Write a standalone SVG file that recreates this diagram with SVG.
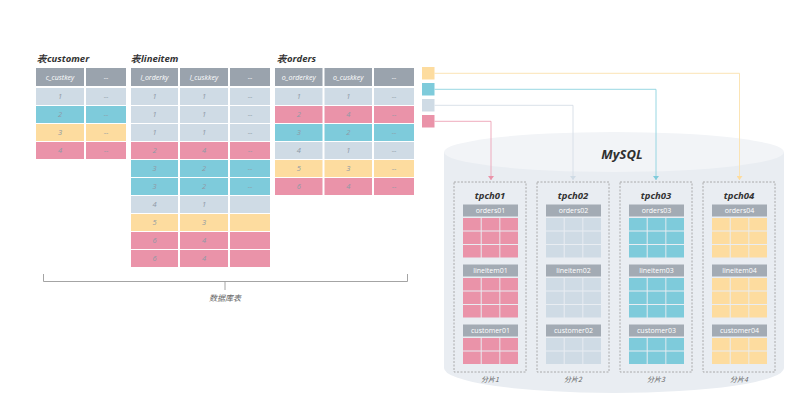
<svg xmlns="http://www.w3.org/2000/svg" width="807" height="404" viewBox="0 0 807 404">
<style>
.pk{fill:#ea93a9}.cy{fill:#7ecbdb}.ye{fill:#fddc9f}.gr{fill:#cfdbe5}.hd{fill:#9aa3ad}
.ttl{font-family:"Open Sans","Liberation Sans",sans-serif;font-size:9.5px;font-weight:bold;font-style:italic;fill:#333}
.ht{font-family:"Open Sans","Liberation Sans",sans-serif;font-size:7px;font-style:italic;fill:#fff;text-anchor:middle}
.ct{font-family:"Open Sans","Liberation Sans",sans-serif;font-size:7.5px;font-style:italic;fill:#8e99a5;text-anchor:middle}
.sh{font-family:"Open Sans","Liberation Sans",sans-serif;font-size:9.5px;font-weight:bold;font-style:italic;fill:#333;text-anchor:middle}
.sht{font-family:"Open Sans","Liberation Sans",sans-serif;font-size:7px;fill:#fff;text-anchor:middle}
.lb{font-family:"Noto Sans CJK SC","Open Sans",sans-serif;font-size:7px;font-style:italic;fill:#666;text-anchor:middle}
.box{fill:none;stroke:#999;stroke-width:0.8;stroke-dasharray:2 1.5}
.sg{fill:#a3abb4}
</style>
<defs>
<marker id="ap" markerWidth="6" markerHeight="6" refX="3" refY="5" markerUnits="userSpaceOnUse" viewBox="0 0 6 6"><path d="M0,1 L6,1 L3,5 Z" fill="#ea93a9"/></marker>
<marker id="ag" markerWidth="6" markerHeight="6" refX="3" refY="5" markerUnits="userSpaceOnUse" viewBox="0 0 6 6"><path d="M0,1 L6,1 L3,5 Z" fill="#cfdbe5"/></marker>
<marker id="ac" markerWidth="6" markerHeight="6" refX="3" refY="5" markerUnits="userSpaceOnUse" viewBox="0 0 6 6"><path d="M0,1 L6,1 L3,5 Z" fill="#7ecbdb"/></marker>
<marker id="ay" markerWidth="6" markerHeight="6" refX="3" refY="5" markerUnits="userSpaceOnUse" viewBox="0 0 6 6"><path d="M0,1 L6,1 L3,5 Z" fill="#fddc9f"/></marker>
</defs>
<rect width="807" height="404" fill="#fff"/>

<!-- customer table -->
<g id="table-customer">
<text class="ttl" x="37" y="62">表customer</text>
<rect class="hd" x="36" y="68" width="48" height="18"/><rect class="hd" x="86" y="68" width="40" height="18"/>
<text class="ht" x="60" y="79.5">c_custkey</text><text class="ht" x="106" y="79.5">--</text>
<rect class="gr" x="36" y="88" width="48" height="17"/><rect class="gr" x="86" y="88" width="40" height="17"/>
<rect class="cy" x="36" y="106" width="48" height="17"/><rect class="cy" x="86" y="106" width="40" height="17"/>
<rect class="ye" x="36" y="124" width="48" height="17"/><rect class="ye" x="86" y="124" width="40" height="17"/>
<rect class="pk" x="36" y="142" width="48" height="17"/><rect class="pk" x="86" y="142" width="40" height="17"/>
<text class="ct" x="60" y="99">1</text><text class="ct" x="106" y="99">--</text>
<text class="ct" x="60" y="117">2</text><text class="ct" x="106" y="117">--</text>
<text class="ct" x="60" y="135">3</text><text class="ct" x="106" y="135">--</text>
<text class="ct" x="60" y="153">4</text><text class="ct" x="106" y="153">--</text>
</g>

<!-- lineitem table -->
<g id="table-lineitem">
<text class="ttl" x="131" y="62">表lineitem</text>
<rect class="hd" x="131" y="68" width="47" height="18"/><rect class="hd" x="180" y="68" width="48" height="18"/><rect class="hd" x="230" y="68" width="40" height="18"/>
<text class="ht" x="154.5" y="79.5">l_orderky</text><text class="ht" x="204" y="79.5">l_cuskkey</text><text class="ht" x="250" y="79.5">--</text>
<g>
<rect class="gr" x="131" y="88" width="47" height="17"/><rect class="gr" x="180" y="88" width="48" height="17"/><rect class="gr" x="230" y="88" width="40" height="17"/>
<rect class="gr" x="131" y="106" width="47" height="17"/><rect class="gr" x="180" y="106" width="48" height="17"/><rect class="gr" x="230" y="106" width="40" height="17"/>
<rect class="gr" x="131" y="124" width="47" height="17"/><rect class="gr" x="180" y="124" width="48" height="17"/><rect class="gr" x="230" y="124" width="40" height="17"/>
<rect class="pk" x="131" y="142" width="47" height="17"/><rect class="pk" x="180" y="142" width="48" height="17"/><rect class="pk" x="230" y="142" width="40" height="17"/>
<rect class="cy" x="131" y="160" width="47" height="17"/><rect class="cy" x="180" y="160" width="48" height="17"/><rect class="cy" x="230" y="160" width="40" height="17"/>
<rect class="cy" x="131" y="178" width="47" height="17"/><rect class="cy" x="180" y="178" width="48" height="17"/><rect class="cy" x="230" y="178" width="40" height="17"/>
<rect class="gr" x="131" y="196" width="47" height="17"/><rect class="gr" x="180" y="196" width="48" height="17"/><rect class="gr" x="230" y="196" width="40" height="17"/>
<rect class="ye" x="131" y="214" width="47" height="17"/><rect class="ye" x="180" y="214" width="48" height="17"/><rect class="ye" x="230" y="214" width="40" height="17"/>
<rect class="pk" x="131" y="232" width="47" height="17"/><rect class="pk" x="180" y="232" width="48" height="17"/><rect class="pk" x="230" y="232" width="40" height="17"/>
<rect class="pk" x="131" y="250" width="47" height="17"/><rect class="pk" x="180" y="250" width="48" height="17"/><rect class="pk" x="230" y="250" width="40" height="17"/>
</g>
<text class="ct" x="154.5" y="99">1</text><text class="ct" x="204" y="99">1</text><text class="ct" x="250" y="99">--</text>
<text class="ct" x="154.5" y="117">1</text><text class="ct" x="204" y="117">1</text><text class="ct" x="250" y="117">--</text>
<text class="ct" x="154.5" y="135">1</text><text class="ct" x="204" y="135">1</text><text class="ct" x="250" y="135">--</text>
<text class="ct" x="154.5" y="153">2</text><text class="ct" x="204" y="153">4</text><text class="ct" x="250" y="153">--</text>
<text class="ct" x="154.5" y="171">3</text><text class="ct" x="204" y="171">2</text><text class="ct" x="250" y="171">--</text>
<text class="ct" x="154.5" y="189">3</text><text class="ct" x="204" y="189">2</text><text class="ct" x="250" y="189">--</text>
<text class="ct" x="154.5" y="207">4</text><text class="ct" x="204" y="207">1</text>
<text class="ct" x="154.5" y="225">5</text><text class="ct" x="204" y="225">3</text>
<text class="ct" x="154.5" y="243">6</text><text class="ct" x="204" y="243">4</text>
<text class="ct" x="154.5" y="261">6</text><text class="ct" x="204" y="261">4</text>
</g>

<!-- orders table -->
<g id="table-orders">
<text class="ttl" x="277" y="62">表orders</text>
<rect class="hd" x="275" y="68" width="47.5" height="18"/><rect class="hd" x="324.5" y="68" width="47.5" height="18"/><rect class="hd" x="374" y="68" width="40" height="18"/>
<text class="ht" x="298.75" y="79.5">o_orderkey</text><text class="ht" x="348.25" y="79.5">o_cuskkey</text><text class="ht" x="394" y="79.5">--</text>
<rect class="gr" x="275" y="88" width="47.5" height="17"/><rect class="gr" x="324.5" y="88" width="47.5" height="17"/><rect class="gr" x="374" y="88" width="40" height="17"/>
<rect class="pk" x="275" y="106" width="47.5" height="17"/><rect class="pk" x="324.5" y="106" width="47.5" height="17"/><rect class="pk" x="374" y="106" width="40" height="17"/>
<rect class="cy" x="275" y="124" width="47.5" height="17"/><rect class="cy" x="324.5" y="124" width="47.5" height="17"/><rect class="cy" x="374" y="124" width="40" height="17"/>
<rect class="gr" x="275" y="142" width="47.5" height="17"/><rect class="gr" x="324.5" y="142" width="47.5" height="17"/><rect class="gr" x="374" y="142" width="40" height="17"/>
<rect class="ye" x="275" y="160" width="47.5" height="17"/><rect class="ye" x="324.5" y="160" width="47.5" height="17"/><rect class="ye" x="374" y="160" width="40" height="17"/>
<rect class="pk" x="275" y="178" width="47.5" height="17"/><rect class="pk" x="324.5" y="178" width="47.5" height="17"/><rect class="pk" x="374" y="178" width="40" height="17"/>
<text class="ct" x="298.75" y="99">1</text><text class="ct" x="348.25" y="99">1</text><text class="ct" x="394" y="99">--</text>
<text class="ct" x="298.75" y="117">2</text><text class="ct" x="348.25" y="117">4</text><text class="ct" x="394" y="117">--</text>
<text class="ct" x="298.75" y="135">3</text><text class="ct" x="348.25" y="135">2</text><text class="ct" x="394" y="135">--</text>
<text class="ct" x="298.75" y="153">4</text><text class="ct" x="348.25" y="153">1</text><text class="ct" x="394" y="153">--</text>
<text class="ct" x="298.75" y="171">5</text><text class="ct" x="348.25" y="171">3</text><text class="ct" x="394" y="171">--</text>
<text class="ct" x="298.75" y="189">6</text><text class="ct" x="348.25" y="189">4</text><text class="ct" x="394" y="189">--</text>
</g>

<!-- bracket -->
<g id="bracket">
<path d="M43.5,274 V281.5 H407.5 V274 M225,281.5 V290" fill="none" stroke="#9a9a9a" stroke-width="0.9"/>
<text class="lb" x="225" y="301" style="font-size:8px">数据库表</text>
</g>

<!-- legend -->
<g id="legend">
<rect class="ye" x="422" y="67" width="12.5" height="12.5"/>
<rect class="cy" x="422" y="83" width="12.5" height="12.5"/>
<rect class="gr" x="422" y="99" width="12.5" height="12.5"/>
<rect class="pk" x="422" y="115" width="12.5" height="12.5"/>
</g>

<!-- cylinder -->
<g id="mysql">
<path d="M444,152 V368 A170,25 0 0 0 784,368 V152 Z" fill="#e9edf2"/>
<ellipse cx="614" cy="152" rx="170" ry="20" fill="#f2f4f7"/>
<text x="622" y="159" style="font-family:'Open Sans','Liberation Sans',sans-serif;font-size:13px;font-weight:bold;font-style:italic;fill:#2f2f2f;text-anchor:middle">MySQL</text>
</g>

<!-- connectors -->
<g id="connectors" fill="none" stroke-width="0.9">
<path d="M434.5,73.3 H739.5 V180" stroke="#fbe1ad" marker-end="url(#ay)"/>
<path d="M434.5,89.3 H656 V180" stroke="#8dd2df" marker-end="url(#ac)"/>
<path d="M434.5,105.3 H573 V180" stroke="#d6dee6" marker-end="url(#ag)"/>
<path d="M434.5,121.3 H491 V180" stroke="#eda2b5" marker-end="url(#ap)"/>
</g>

<!-- shards -->
<g id="shard1">
<rect class="box" x="454" y="182" width="72" height="190"/>
<text class="sh" x="490" y="199">tpch01</text>
<rect class="sg" x="463" y="204.5" width="55" height="12"/><text class="sht" x="490.5" y="213">orders01</text>
<g class="pk"><rect x="463" y="218" width="17.7" height="12.5"/><rect x="481.7" y="218" width="17.7" height="12.5"/><rect x="500.3" y="218" width="17.7" height="12.5"/><rect x="463" y="231.5" width="17.7" height="12.5"/><rect x="481.7" y="231.5" width="17.7" height="12.5"/><rect x="500.3" y="231.5" width="17.7" height="12.5"/><rect x="463" y="245" width="17.7" height="12.5"/><rect x="481.7" y="245" width="17.7" height="12.5"/><rect x="500.3" y="245" width="17.7" height="12.5"/></g>
<rect class="sg" x="463" y="264.5" width="55" height="12"/><text class="sht" x="490.5" y="273">lineitem01</text>
<g class="pk"><rect x="463" y="278" width="17.7" height="12.5"/><rect x="481.7" y="278" width="17.7" height="12.5"/><rect x="500.3" y="278" width="17.7" height="12.5"/><rect x="463" y="291.5" width="17.7" height="12.5"/><rect x="481.7" y="291.5" width="17.7" height="12.5"/><rect x="500.3" y="291.5" width="17.7" height="12.5"/><rect x="463" y="305" width="17.7" height="12.5"/><rect x="481.7" y="305" width="17.7" height="12.5"/><rect x="500.3" y="305" width="17.7" height="12.5"/></g>
<rect class="sg" x="463" y="324.5" width="55" height="12"/><text class="sht" x="490.5" y="333">customer01</text>
<g class="pk"><rect x="463" y="338" width="17.7" height="12.5"/><rect x="481.7" y="338" width="17.7" height="12.5"/><rect x="500.3" y="338" width="17.7" height="12.5"/><rect x="463" y="351.5" width="17.7" height="12.5"/><rect x="481.7" y="351.5" width="17.7" height="12.5"/><rect x="500.3" y="351.5" width="17.7" height="12.5"/></g>
<text class="lb" x="490" y="382">分片1</text>
</g>

<g id="shard2">
<rect class="box" x="537" y="182" width="72" height="190"/>
<text class="sh" x="573" y="199">tpch02</text>
<rect class="sg" x="546" y="204.5" width="55" height="12"/><text class="sht" x="573.5" y="213">orders02</text>
<g class="gr"><rect x="546" y="218" width="17.7" height="12.5"/><rect x="564.7" y="218" width="17.7" height="12.5"/><rect x="583.3" y="218" width="17.7" height="12.5"/><rect x="546" y="231.5" width="17.7" height="12.5"/><rect x="564.7" y="231.5" width="17.7" height="12.5"/><rect x="583.3" y="231.5" width="17.7" height="12.5"/><rect x="546" y="245" width="17.7" height="12.5"/><rect x="564.7" y="245" width="17.7" height="12.5"/><rect x="583.3" y="245" width="17.7" height="12.5"/></g>
<rect class="sg" x="546" y="264.5" width="55" height="12"/><text class="sht" x="573.5" y="273">lineitem02</text>
<g class="gr"><rect x="546" y="278" width="17.7" height="12.5"/><rect x="564.7" y="278" width="17.7" height="12.5"/><rect x="583.3" y="278" width="17.7" height="12.5"/><rect x="546" y="291.5" width="17.7" height="12.5"/><rect x="564.7" y="291.5" width="17.7" height="12.5"/><rect x="583.3" y="291.5" width="17.7" height="12.5"/><rect x="546" y="305" width="17.7" height="12.5"/><rect x="564.7" y="305" width="17.7" height="12.5"/><rect x="583.3" y="305" width="17.7" height="12.5"/></g>
<rect class="sg" x="546" y="324.5" width="55" height="12"/><text class="sht" x="573.5" y="333">customer02</text>
<g class="gr"><rect x="546" y="338" width="17.7" height="12.5"/><rect x="564.7" y="338" width="17.7" height="12.5"/><rect x="583.3" y="338" width="17.7" height="12.5"/><rect x="546" y="351.5" width="17.7" height="12.5"/><rect x="564.7" y="351.5" width="17.7" height="12.5"/><rect x="583.3" y="351.5" width="17.7" height="12.5"/></g>
<text class="lb" x="573" y="382">分片2</text>
</g>

<g id="shard3">
<rect class="box" x="620" y="182" width="72" height="190"/>
<text class="sh" x="656" y="199">tpch03</text>
<rect class="sg" x="629" y="204.5" width="55" height="12"/><text class="sht" x="656.5" y="213">orders03</text>
<g class="cy"><rect x="629" y="218" width="17.7" height="12.5"/><rect x="647.7" y="218" width="17.7" height="12.5"/><rect x="666.3" y="218" width="17.7" height="12.5"/><rect x="629" y="231.5" width="17.7" height="12.5"/><rect x="647.7" y="231.5" width="17.7" height="12.5"/><rect x="666.3" y="231.5" width="17.7" height="12.5"/><rect x="629" y="245" width="17.7" height="12.5"/><rect x="647.7" y="245" width="17.7" height="12.5"/><rect x="666.3" y="245" width="17.7" height="12.5"/></g>
<rect class="sg" x="629" y="264.5" width="55" height="12"/><text class="sht" x="656.5" y="273">lineitem03</text>
<g class="cy"><rect x="629" y="278" width="17.7" height="12.5"/><rect x="647.7" y="278" width="17.7" height="12.5"/><rect x="666.3" y="278" width="17.7" height="12.5"/><rect x="629" y="291.5" width="17.7" height="12.5"/><rect x="647.7" y="291.5" width="17.7" height="12.5"/><rect x="666.3" y="291.5" width="17.7" height="12.5"/><rect x="629" y="305" width="17.7" height="12.5"/><rect x="647.7" y="305" width="17.7" height="12.5"/><rect x="666.3" y="305" width="17.7" height="12.5"/></g>
<rect class="sg" x="629" y="324.5" width="55" height="12"/><text class="sht" x="656.5" y="333">customer03</text>
<g class="cy"><rect x="629" y="338" width="17.7" height="12.5"/><rect x="647.7" y="338" width="17.7" height="12.5"/><rect x="666.3" y="338" width="17.7" height="12.5"/><rect x="629" y="351.5" width="17.7" height="12.5"/><rect x="647.7" y="351.5" width="17.7" height="12.5"/><rect x="666.3" y="351.5" width="17.7" height="12.5"/></g>
<text class="lb" x="656" y="382">分片3</text>
</g>

<g id="shard4">
<rect class="box" x="703" y="182" width="72" height="190"/>
<text class="sh" x="739" y="199">tpch04</text>
<rect class="sg" x="712" y="204.5" width="55" height="12"/><text class="sht" x="739.5" y="213">orders04</text>
<g class="ye"><rect x="712" y="218" width="17.7" height="12.5"/><rect x="730.7" y="218" width="17.7" height="12.5"/><rect x="749.3" y="218" width="17.7" height="12.5"/><rect x="712" y="231.5" width="17.7" height="12.5"/><rect x="730.7" y="231.5" width="17.7" height="12.5"/><rect x="749.3" y="231.5" width="17.7" height="12.5"/><rect x="712" y="245" width="17.7" height="12.5"/><rect x="730.7" y="245" width="17.7" height="12.5"/><rect x="749.3" y="245" width="17.7" height="12.5"/></g>
<rect class="sg" x="712" y="264.5" width="55" height="12"/><text class="sht" x="739.5" y="273">lineitem04</text>
<g class="ye"><rect x="712" y="278" width="17.7" height="12.5"/><rect x="730.7" y="278" width="17.7" height="12.5"/><rect x="749.3" y="278" width="17.7" height="12.5"/><rect x="712" y="291.5" width="17.7" height="12.5"/><rect x="730.7" y="291.5" width="17.7" height="12.5"/><rect x="749.3" y="291.5" width="17.7" height="12.5"/><rect x="712" y="305" width="17.7" height="12.5"/><rect x="730.7" y="305" width="17.7" height="12.5"/><rect x="749.3" y="305" width="17.7" height="12.5"/></g>
<rect class="sg" x="712" y="324.5" width="55" height="12"/><text class="sht" x="739.5" y="333">customer04</text>
<g class="ye"><rect x="712" y="338" width="17.7" height="12.5"/><rect x="730.7" y="338" width="17.7" height="12.5"/><rect x="749.3" y="338" width="17.7" height="12.5"/><rect x="712" y="351.5" width="17.7" height="12.5"/><rect x="730.7" y="351.5" width="17.7" height="12.5"/><rect x="749.3" y="351.5" width="17.7" height="12.5"/></g>
<text class="lb" x="739" y="382">分片4</text>
</g>
</svg>
